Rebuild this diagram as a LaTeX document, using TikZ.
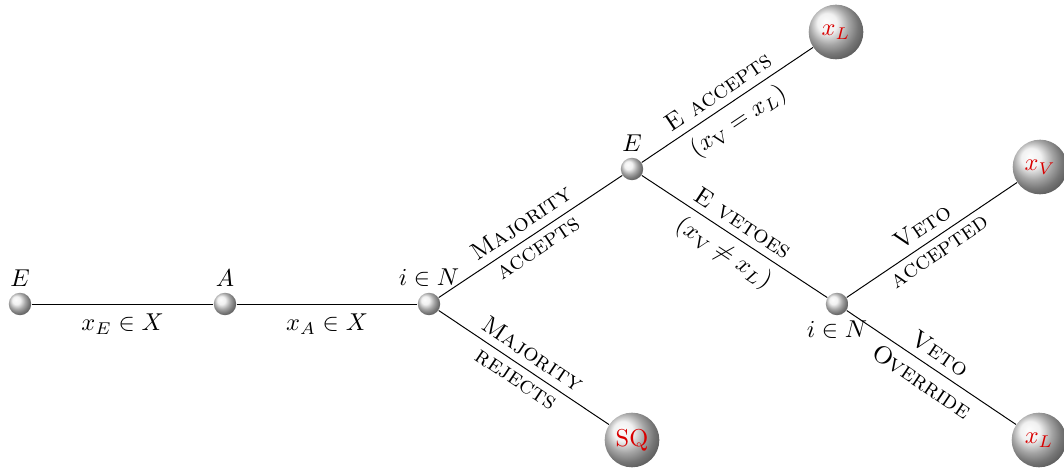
\documentclass[tikz,border=0pt]{standalone}
\usetikzlibrary{shadings}
\begin{document}
\begin{tikzpicture}[x=0.41pt,y=-0.41pt,
  smallball/.style={circle,inner sep=0pt,minimum size=9.2pt,shading=ball,ball color=gray!15},
  bigball/.style={circle,inner sep=0pt,minimum size=22.4pt,shading=ball,ball color=gray!15,text=red!85!black},
  edge/.style={black,line width=0.4pt},
  lab/.style={sloped,inner sep=3pt}]
\useasboundingbox (0,0) rectangle (1064,468);
\node[smallball,label={[inner sep=2pt]above:$E$}] (E1) at (20,304) {};
\node[smallball,label={[inner sep=2pt]above:$A$}] (A) at (225,304) {};
\node[smallball,label={[inner sep=2pt]above:$i\in N$}] (N1) at (429,304) {};
\node[smallball,label={[inner sep=2pt]above:$E$}] (E2) at (632,169) {};
\node[smallball,label={[inner sep=2pt]below:$i\in N$}] (N2) at (837,304) {};
\node[bigball] (L1) at (836,32) {$x_L$};
\node[bigball] (V) at (1040,167) {$x_V$};
\node[bigball] (L2) at (1039,440) {$x_L$};
\node[bigball] (SQ) at (632,440) {SQ};
\draw[edge] (E1) -- node[below,inner sep=4pt] {$x_E\in X$} (A);
\draw[edge] (A) -- node[below,inner sep=4pt] {$x_A\in X$} (N1);
\draw[edge] (N1) -- node[lab,above] {\textsc{Majority}} node[lab,below] {\textsc{accepts}} (E2);
\draw[edge] (N1) -- node[lab,above] {\textsc{Majority}} node[lab,below] {\textsc{rejects}} (SQ);
\draw[edge] (E2) -- node[lab,above] {\textsc{E accepts}} node[lab,below] {$(x_{\mathrm{V}}=x_L)$} (L1);
\draw[edge] (E2) -- node[lab,above] {\textsc{E vetoes}} node[lab,below] {$(x_{\mathrm{V}}\neq x_L)$} (N2);
\draw[edge] (N2) -- node[lab,above] {\textsc{Veto}} node[lab,below] {\textsc{accepted}} (V);
\draw[edge] (N2) -- node[lab,above] {\textsc{Veto}} node[lab,below] {\textsc{Override}} (L2);
\end{tikzpicture}
\end{document}
